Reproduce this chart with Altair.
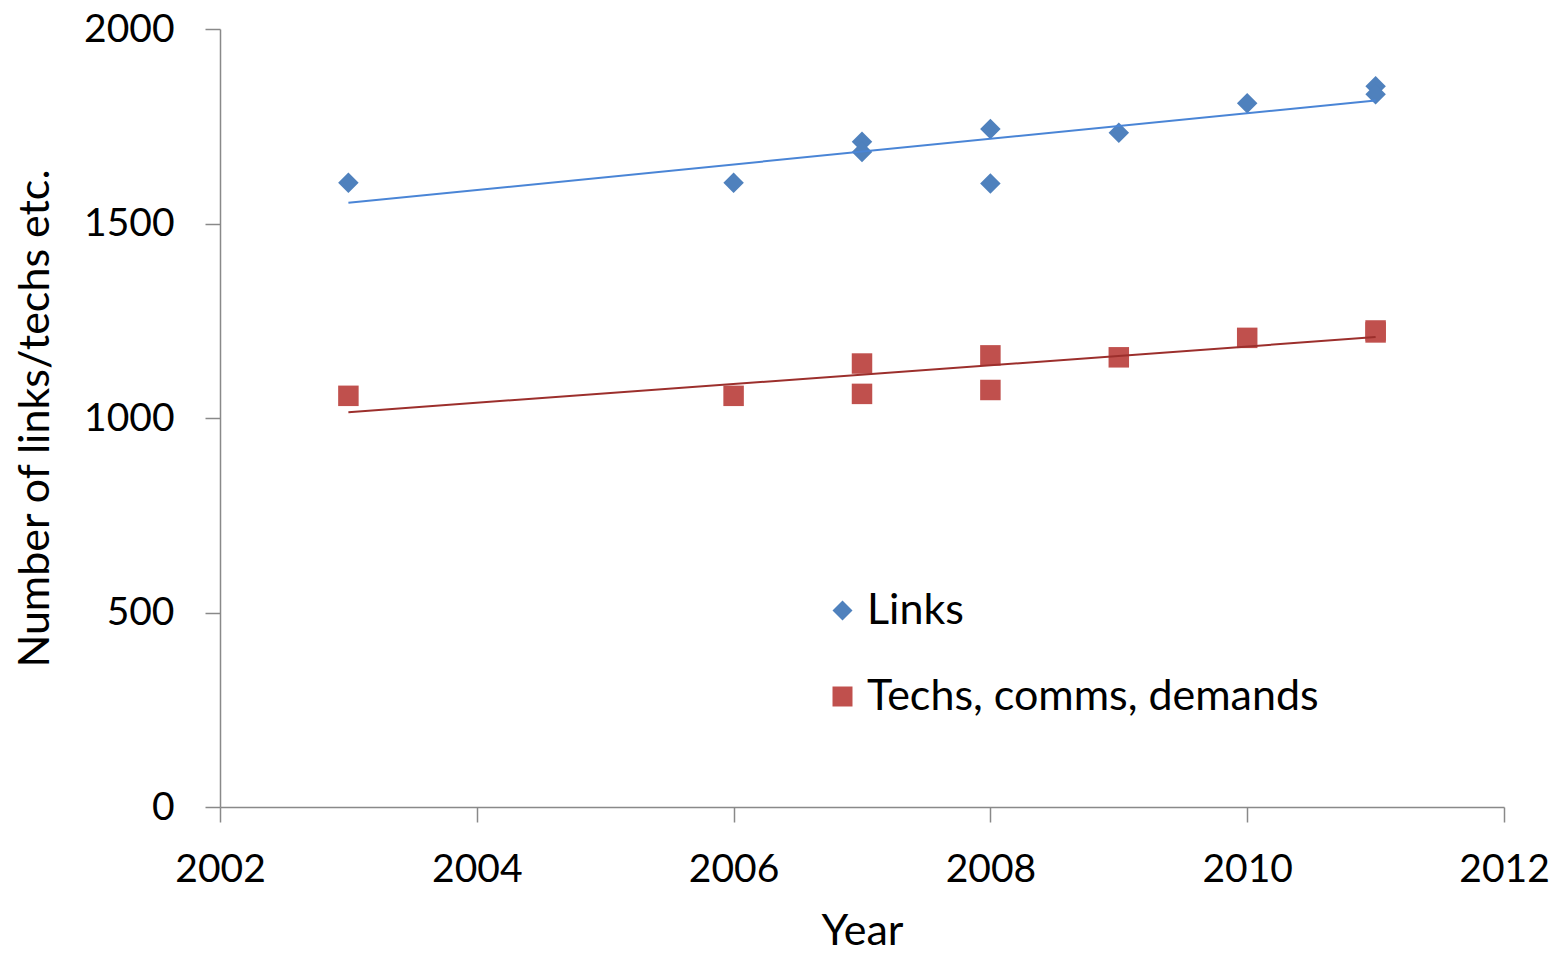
import altair as alt
import pandas as pd

links_years = [2003, 2006, 2007, 2007, 2008, 2008, 2009, 2010, 2011, 2011]
links_values = [1605, 1605, 1710, 1684, 1743, 1603, 1733, 1809, 1853, 1832]

techs_years = [2003, 2006, 2007, 2007, 2008, 2008, 2009, 2010, 2011, 2011]
techs_values = [1057, 1057, 1140, 1062, 1161, 1072, 1156, 1206, 1220, 1225]

series_names = ["Links", "Techs, comms, demands"]
marker_colors = ["#4F81BD", "#C0504D"]
line_colors = ["#4A85D6", "#9C2F2C"]
shapes = ["diamond", "square"]

df = pd.DataFrame(
    {
        "Year": links_years + techs_years,
        "Value": links_values + techs_values,
        "Series": [series_names[0]] * len(links_years) + [series_names[1]] * len(techs_years),
    }
)

FONT = "Lato"
FS = 39
TFS = 43
LFS = 43

x_enc = alt.X(
    "Year:Q",
    scale=alt.Scale(domain=[2002, 2012], nice=False, zero=False),
    axis=alt.Axis(
        values=[2002, 2004, 2006, 2008, 2010, 2012],
        format="d",
        title="Year",
        grid=False,
        tickSize=15,
        labelPadding=28,
        labelFlush=False,
        labelOverlap=False,
        titleY=137,
        titleBaseline="alphabetic",
    ),
)
y_enc = alt.Y(
    "Value:Q",
    scale=alt.Scale(domain=[0, 2000], nice=False),
    axis=alt.Axis(
        values=[0, 500, 1000, 1500, 2000],
        format="d",
        title="Number of links/techs etc.",
        grid=False,
        tickSize=15,
        labelPadding=31,
        labelFlush=False,
        labelOverlap=False,
        titleX=-172,
        titleBaseline="alphabetic",
    ),
)

points = alt.Chart(df).mark_point(filled=True, opacity=1, size=420).encode(
    x=x_enc,
    y=y_enc,
    color=alt.Color(
        "Series:N",
        scale=alt.Scale(domain=series_names, range=marker_colors),
        legend=alt.Legend(
            title=None,
            orient="none",
            legendX=601,
            legendY=560,
            symbolSize=400,
            symbolStrokeWidth=0,
            labelFont=FONT,
            labelFontSize=LFS,
            labelColor="#000000",
            labelOffset=3,
            labelLimit=0,
            rowPadding=42,
            padding=0,
        ),
    ),
    shape=alt.Shape(
        "Series:N",
        scale=alt.Scale(domain=series_names, range=shapes),
    ),
)

trend_layers = []
for name, col in zip(series_names, line_colors):
    trend_layers.append(
        alt.Chart(df)
        .transform_filter(alt.datum.Series == name)
        .transform_regression("Year", "Value")
        .mark_line(strokeWidth=2, color=col)
        .encode(x="Year:Q", y="Value:Q")
    )

chart = (
    alt.layer(points, *trend_layers)
    .properties(
        width=1284,
        height=778,
        autosize=alt.AutoSizeParams(type="none"),
        padding={"left": 212, "top": 21, "right": 50, "bottom": 139},
    )
    .configure_view(stroke=None)
    .configure_axis(
        labelFont=FONT,
        labelFontSize=FS,
        labelColor="#000000",
        titleFont=FONT,
        titleFontSize=TFS,
        titleFontWeight="normal",
        titleColor="#000000",
        domainColor="#898989",
        domainWidth=1.5,
        tickColor="#898989",
        tickWidth=1.5,
    )
)

chart.save("out.html", embed_options={"renderer": "svg", "actions": False})
